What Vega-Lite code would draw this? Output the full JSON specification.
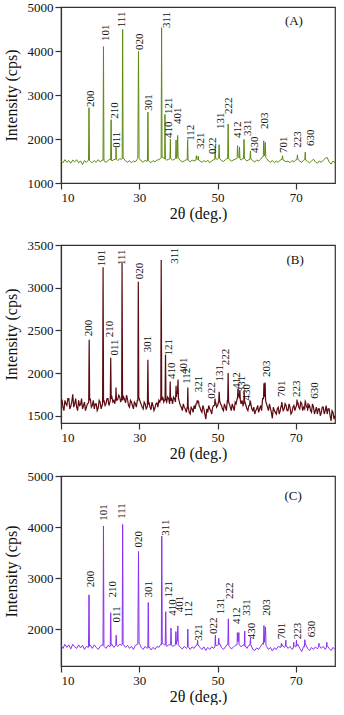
{
"$schema": "https://vega.github.io/schema/vega-lite/v6.json",
"padding": {"left": 2, "top": 0, "right": 4, "bottom": 0},
"spacing": 7,
"align": "none",
"config": {
 "font": "Liberation Serif",
 "view": {"stroke": "#333", "strokeWidth": 1.2},
 "axis": {"grid": false, "labelOverlap": false, "domainColor": "#333", "domainWidth": 1.2, "tickColor": "#333", "tickWidth": 1.2, "labelColor": "#111", "titleColor": "#111", "labelFont": "Liberation Serif", "titleFont": "Liberation Serif", "labelFontSize": 13, "titleFontSize": 16, "titleFontWeight": "normal", "labelPadding": 2},
 "axisX": {"titlePadding": 1},
 "axisY": {"titlePadding": 8},
 "text": {"font": "Liberation Serif", "color": "#111"}
},
"vconcat": [
{
 "width": 274, "height": 176,
 "layer": [
  {"data": {"values": [
{"x":10,"y":1500},{"x":10.5,"y":1460},{"x":11,"y":1530},{"x":11.5,"y":1470},{"x":12,"y":1510},{"x":12.5,"y":1450},{"x":13,"y":1520},{"x":13.5,"y":1480},{"x":14,"y":1530},{"x":14.5,"y":1460},{"x":15,"y":1500},{"x":15.5,"y":1420},{"x":16,"y":1510},{"x":16.5,"y":1470},{"x":17,"y":1520},{"x":17.5,"y":1490},{"x":18,"y":1460},{"x":18.5,"y":1510},{"x":19,"y":1470},{"x":19.5,"y":1530},{"x":20,"y":1480},{"x":20.5,"y":1520},{"x":21,"y":1500},{"x":21.5,"y":1470},{"x":22,"y":1510},{"x":22.5,"y":1540},{"x":23,"y":1500},{"x":23.5,"y":1530},{"x":24,"y":1560},{"x":24.5,"y":1510},{"x":25,"y":1550},{"x":25.5,"y":1540},{"x":26,"y":1560},{"x":26.5,"y":1500},{"x":27,"y":1470},{"x":27.5,"y":1510},{"x":28,"y":1460},{"x":28.5,"y":1500},{"x":29,"y":1480},{"x":29.5,"y":1540},{"x":30,"y":1560},{"x":30.5,"y":1500},{"x":31,"y":1470},{"x":31.5,"y":1520},{"x":32,"y":1490},{"x":32.5,"y":1500},{"x":33,"y":1460},{"x":33.5,"y":1510},{"x":34,"y":1480},{"x":34.5,"y":1520},{"x":35,"y":1530},{"x":35.5,"y":1560},{"x":36,"y":1580},{"x":36.5,"y":1550},{"x":37,"y":1520},{"x":37.5,"y":1540},{"x":38,"y":1560},{"x":38.5,"y":1520},{"x":39,"y":1540},{"x":39.5,"y":1560},{"x":40,"y":1570},{"x":40.5,"y":1510},{"x":41,"y":1480},{"x":41.5,"y":1500},{"x":42,"y":1530},{"x":42.5,"y":1520},{"x":43,"y":1480},{"x":43.5,"y":1520},{"x":44,"y":1500},{"x":44.5,"y":1560},{"x":45,"y":1550},{"x":45.5,"y":1500},{"x":46,"y":1470},{"x":46.5,"y":1510},{"x":47,"y":1480},{"x":47.5,"y":1520},{"x":48,"y":1460},{"x":48.5,"y":1500},{"x":49,"y":1530},{"x":49.5,"y":1560},{"x":50,"y":1540},{"x":50.5,"y":1570},{"x":51,"y":1510},{"x":51.5,"y":1490},{"x":52,"y":1530},{"x":52.5,"y":1560},{"x":53,"y":1540},{"x":53.5,"y":1500},{"x":54,"y":1520},{"x":54.5,"y":1540},{"x":55,"y":1580},{"x":55.5,"y":1570},{"x":56,"y":1520},{"x":56.5,"y":1560},{"x":57,"y":1540},{"x":57.5,"y":1500},{"x":58,"y":1530},{"x":58.5,"y":1560},{"x":59,"y":1510},{"x":59.5,"y":1480},{"x":60,"y":1520},{"x":60.5,"y":1500},{"x":61,"y":1540},{"x":61.5,"y":1600},{"x":62,"y":1620},{"x":62.5,"y":1560},{"x":63,"y":1500},{"x":63.5,"y":1470},{"x":64,"y":1510},{"x":64.5,"y":1460},{"x":65,"y":1500},{"x":65.5,"y":1470},{"x":66,"y":1520},{"x":66.5,"y":1560},{"x":67,"y":1510},{"x":67.5,"y":1480},{"x":68,"y":1500},{"x":68.5,"y":1460},{"x":69,"y":1510},{"x":69.5,"y":1480},{"x":70,"y":1530},{"x":70.5,"y":1560},{"x":71,"y":1500},{"x":71.5,"y":1470},{"x":72,"y":1520},{"x":72.5,"y":1550},{"x":73,"y":1490},{"x":73.5,"y":1460},{"x":74,"y":1500},{"x":74.5,"y":1540},{"x":75,"y":1480},{"x":75.5,"y":1450},{"x":76,"y":1500},{"x":76.5,"y":1470},{"x":77,"y":1520},{"x":77.5,"y":1560},{"x":78,"y":1580},{"x":78.5,"y":1480},{"x":79,"y":1430},{"x":79.5,"y":1500},{"x":80,"y":1460},
{"x":17.03,"y":1520},{"x":17.15,"y":2710},{"x":17.27,"y":1510},
{"x":20.73,"y":1520},{"x":20.85,"y":4100},{"x":20.97,"y":1510},
{"x":22.68,"y":1530},{"x":22.8,"y":2440},{"x":22.92,"y":1520},
{"x":23.93,"y":1540},{"x":24.05,"y":1800},{"x":24.17,"y":1540},
{"x":25.63,"y":1550},{"x":25.75,"y":4490},{"x":25.87,"y":1550},
{"x":29.62,"y":1560},{"x":29.8,"y":3990},{"x":29.95,"y":1580},
{"x":32.08,"y":1500},{"x":32.2,"y":2610},{"x":32.32,"y":1510},
{"x":35.58,"y":1570},{"x":35.7,"y":4530},{"x":35.82,"y":1580},
{"x":36.43,"y":1560},{"x":36.55,"y":2560},{"x":36.67,"y":1540},
{"x":37.83,"y":1550},{"x":37.95,"y":2000},{"x":38.07,"y":1550},
{"x":39.28,"y":1560},{"x":39.4,"y":1980},{"x":39.52,"y":1600},
{"x":39.68,"y":1600},{"x":39.8,"y":2080},{"x":39.92,"y":1560},
{"x":42.23,"y":1520},{"x":42.35,"y":1980},{"x":42.47,"y":1520},
{"x":44.48,"y":1520},{"x":44.6,"y":1620},{"x":44.72,"y":1540},
{"x":44.93,"y":1540},{"x":45.05,"y":1610},{"x":45.17,"y":1520},
{"x":49.28,"y":1530},{"x":49.4,"y":1810},{"x":49.52,"y":1550},
{"x":50.28,"y":1560},{"x":50.4,"y":1870},{"x":50.52,"y":1560},
{"x":52.58,"y":1550},{"x":52.7,"y":2340},{"x":52.82,"y":1550},
{"x":54.98,"y":1560},{"x":55.1,"y":1850},{"x":55.22,"y":1620},
{"x":55.48,"y":1600},{"x":55.6,"y":1820},{"x":55.72,"y":1560},
{"x":56.63,"y":1550},{"x":56.75,"y":1990},{"x":56.87,"y":1550},
{"x":58.28,"y":1540},{"x":58.4,"y":1730},{"x":58.52,"y":1550},
{"x":61.68,"y":1600},{"x":61.8,"y":1960},{"x":61.92,"y":1700},
{"x":62.08,"y":1700},{"x":62.2,"y":1920},{"x":62.32,"y":1580},
{"x":66.48,"y":1540},{"x":66.6,"y":1620},{"x":66.72,"y":1520},
{"x":70.28,"y":1530},{"x":70.4,"y":1640},{"x":70.52,"y":1540},
{"x":72.28,"y":1530},{"x":72.4,"y":1700},{"x":72.52,"y":1520}
  ]},
   "mark": {"type": "line", "color": "#5e8a12", "strokeWidth": 1, "clip": true},
   "encoding": {
    "x": {"field": "x", "type": "quantitative", "scale": {"domain": [10, 80], "nice": false, "zero": false},
     "axis": {"title": "2θ (deg.)", "labelOverlap": false, "values": [10,15,20,25,30,35,40,45,50,55,60,65,70,75,80], "labelExpr": "datum.value % 10 === 0 ? datum.label : ''", "tickSize": {"condition": {"test": "datum.value % 10 === 0", "value": 6}, "value": 3}}},
    "y": {"field": "y", "type": "quantitative", "scale": {"domain": [1000, 5000], "nice": false, "zero": false},
     "axis": {"title": "Intensity (cps)", "labelOverlap": false, "format": "d", "values": [1000,1500,2000,2500,3000,3500,4000,4500,5000], "labelExpr": "datum.value % 1000 === 0 ? datum.label : ''", "tickSize": {"condition": {"test": "datum.value % 1000 === 0", "value": 6}, "value": 3}}}
   }},
  {"data": {"values": [
{"x":17.6,"y":2730,"t":"200"},{"x":21.4,"y":4230,"t":"101"},{"x":23.7,"y":2460,"t":"210"},{"x":24.2,"y":1800,"t":"011"},{"x":25.7,"y":4540,"t":"111"},{"x":30.2,"y":4020,"t":"020"},{"x":32.6,"y":2640,"t":"301"},{"x":37.2,"y":4520,"t":"311"},{"x":37.7,"y":2570,"t":"121"},{"x":37.5,"y":2020,"t":"410"},{"x":39.9,"y":2340,"t":"401"},{"x":43.2,"y":1960,"t":"112"},{"x":45.8,"y":1770,"t":"321"},{"x":48.8,"y":1660,"t":"022"},{"x":50.9,"y":2230,"t":"131"},{"x":53.0,"y":2570,"t":"222"},{"x":55.3,"y":2020,"t":"412"},{"x":57.7,"y":2070,"t":"331"},{"x":59.6,"y":1680,"t":"430"},{"x":62.1,"y":2230,"t":"203"},{"x":67.0,"y":1680,"t":"701"},{"x":70.5,"y":1800,"t":"223"},{"x":73.9,"y":1840,"t":"630"}
  ]},
   "mark": {"type": "text", "angle": 270, "align": "left", "baseline": "middle", "fontSize": 11},
   "encoding": {
    "x": {"field": "x", "type": "quantitative", "scale": {"domain": [10, 80], "nice": false, "zero": false}},
    "y": {"field": "y", "type": "quantitative", "scale": {"domain": [1000, 5000], "nice": false, "zero": false}},
    "text": {"field": "t"}
   }},
  {"data": {"values": [{"x": 69.5, "y": 4680, "t": "(A)"}]},
   "mark": {"type": "text", "align": "center", "baseline": "middle", "fontSize": 13},
   "encoding": {
    "x": {"field": "x", "type": "quantitative", "scale": {"domain": [10, 80], "nice": false, "zero": false}},
    "y": {"field": "y", "type": "quantitative", "scale": {"domain": [1000, 5000], "nice": false, "zero": false}},
    "text": {"field": "t"}
   }}
 ]
},
{
 "width": 274, "height": 178,
 "title": {"text": " ", "fontSize": 9, "offset": 0},
 "layer": [
  {"data": {"values": [
{"x":10,"y":1650},{"x":10.5,"y":1600},{"x":11,"y":1680},{"x":11.5,"y":1620},{"x":12,"y":1700},{"x":12.5,"y":1610},{"x":13,"y":1750},{"x":13.5,"y":1640},{"x":14,"y":1600},{"x":14.5,"y":1680},{"x":15,"y":1630},{"x":15.5,"y":1580},{"x":16,"y":1660},{"x":16.5,"y":1600},{"x":17,"y":1650},{"x":17.5,"y":1700},{"x":18,"y":1620},{"x":18.5,"y":1580},{"x":19,"y":1640},{"x":19.5,"y":1590},{"x":20,"y":1660},{"x":20.5,"y":1620},{"x":21,"y":1680},{"x":21.5,"y":1640},{"x":22,"y":1700},{"x":22.5,"y":1660},{"x":23,"y":1720},{"x":23.5,"y":1680},{"x":24,"y":1730},{"x":24.5,"y":1690},{"x":25,"y":1720},{"x":25.5,"y":1700},{"x":26,"y":1720},{"x":26.5,"y":1650},{"x":27,"y":1690},{"x":27.5,"y":1600},{"x":28,"y":1660},{"x":28.5,"y":1580},{"x":29,"y":1640},{"x":29.5,"y":1680},{"x":30,"y":1700},{"x":30.5,"y":1630},{"x":31,"y":1580},{"x":31.5,"y":1640},{"x":32,"y":1600},{"x":32.5,"y":1650},{"x":33,"y":1570},{"x":33.5,"y":1620},{"x":34,"y":1590},{"x":34.5,"y":1650},{"x":35,"y":1680},{"x":35.5,"y":1700},{"x":36,"y":1720},{"x":36.5,"y":1690},{"x":37,"y":1660},{"x":37.5,"y":1700},{"x":38,"y":1680},{"x":38.5,"y":1640},{"x":39,"y":1700},{"x":39.5,"y":1720},{"x":40,"y":1700},{"x":40.5,"y":1620},{"x":41,"y":1560},{"x":41.5,"y":1600},{"x":42,"y":1540},{"x":42.5,"y":1600},{"x":43,"y":1520},{"x":43.5,"y":1580},{"x":44,"y":1620},{"x":44.5,"y":1640},{"x":45,"y":1680},{"x":45.5,"y":1600},{"x":46,"y":1540},{"x":46.5,"y":1580},{"x":47,"y":1460},{"x":47.5,"y":1540},{"x":48,"y":1580},{"x":48.5,"y":1520},{"x":49,"y":1620},{"x":49.5,"y":1660},{"x":50,"y":1620},{"x":50.5,"y":1700},{"x":51,"y":1620},{"x":51.5,"y":1560},{"x":52,"y":1600},{"x":52.5,"y":1680},{"x":53,"y":1640},{"x":53.5,"y":1560},{"x":54,"y":1600},{"x":54.5,"y":1660},{"x":55,"y":1700},{"x":55.5,"y":1720},{"x":56,"y":1640},{"x":56.5,"y":1620},{"x":57,"y":1660},{"x":57.5,"y":1580},{"x":58,"y":1620},{"x":58.5,"y":1640},{"x":59,"y":1560},{"x":59.5,"y":1520},{"x":60,"y":1580},{"x":60.5,"y":1540},{"x":61,"y":1620},{"x":61.5,"y":1700},{"x":62,"y":1720},{"x":62.5,"y":1640},{"x":63,"y":1560},{"x":63.5,"y":1590},{"x":64,"y":1470},{"x":64.5,"y":1560},{"x":65,"y":1520},{"x":65.5,"y":1600},{"x":66,"y":1560},{"x":66.5,"y":1640},{"x":67,"y":1580},{"x":67.5,"y":1620},{"x":68,"y":1560},{"x":68.5,"y":1600},{"x":69,"y":1540},{"x":69.5,"y":1620},{"x":70,"y":1600},{"x":70.5,"y":1660},{"x":71,"y":1580},{"x":71.5,"y":1640},{"x":72,"y":1600},{"x":72.5,"y":1660},{"x":73,"y":1560},{"x":73.5,"y":1620},{"x":74,"y":1540},{"x":74.5,"y":1600},{"x":75,"y":1560},{"x":75.5,"y":1520},{"x":76,"y":1580},{"x":76.5,"y":1540},{"x":77,"y":1600},{"x":77.5,"y":1560},{"x":78,"y":1520},{"x":78.5,"y":1580},{"x":79,"y":1440},{"x":79.5,"y":1540},{"x":80,"y":1500},
{"x":10.25,"y":1690},{"x":10.75,"y":1560},{"x":11.25,"y":1640},{"x":11.75,"y":1700},{"x":12.25,"y":1580},{"x":12.75,"y":1660},{"x":13.25,"y":1600},{"x":13.75,"y":1700},{"x":14.25,"y":1560},{"x":14.75,"y":1620},{"x":15.25,"y":1700},{"x":15.75,"y":1620},{"x":16.25,"y":1560},{"x":16.75,"y":1640},{"x":17.75,"y":1600},{"x":18.25,"y":1680},{"x":18.75,"y":1640},{"x":19.25,"y":1560},{"x":19.75,"y":1680},{"x":20.25,"y":1580},{"x":21.25,"y":1620},{"x":21.75,"y":1700},{"x":22.25,"y":1620},{"x":23.25,"y":1660},{"x":23.75,"y":1640},{"x":24.25,"y":1680},{"x":24.75,"y":1740},{"x":25.25,"y":1660},{"x":25.75,"y":1680},{"x":26.25,"y":1690},{"x":26.75,"y":1740},{"x":27.25,"y":1620},{"x":27.75,"y":1680},{"x":28.25,"y":1620},{"x":28.75,"y":1660},{"x":29.25,"y":1600},{"x":30.25,"y":1660},{"x":30.75,"y":1600},{"x":31.25,"y":1660},{"x":31.75,"y":1580},{"x":32.75,"y":1600},{"x":33.25,"y":1660},{"x":33.75,"y":1560},{"x":34.25,"y":1640},{"x":34.75,"y":1600},{"x":35.25,"y":1660},{"x":35.75,"y":1680},{"x":36.25,"y":1660},{"x":37.25,"y":1720},{"x":37.75,"y":1640},{"x":38.25,"y":1700},{"x":38.75,"y":1720},{"x":39.25,"y":1660},{"x":40.25,"y":1660},{"x":40.75,"y":1600},{"x":41.25,"y":1640},{"x":41.75,"y":1580},{"x":42.25,"y":1600},{"x":42.75,"y":1540},{"x":43.25,"y":1600},{"x":43.75,"y":1540},{"x":44.25,"y":1580},{"x":45.75,"y":1560},{"x":46.25,"y":1620},{"x":46.75,"y":1520},{"x":47.25,"y":1580},{"x":47.75,"y":1620},{"x":48.25,"y":1560},{"x":48.75,"y":1600},{"x":49.75,"y":1600},{"x":50.25,"y":1660},{"x":50.75,"y":1640},{"x":51.25,"y":1580},{"x":51.75,"y":1640},{"x":52.25,"y":1560},{"x":53.25,"y":1600},{"x":53.75,"y":1640},{"x":54.25,"y":1560},{"x":54.75,"y":1640},{"x":56.25,"y":1680},{"x":57.25,"y":1620},{"x":57.75,"y":1560},{"x":58.75,"y":1580},{"x":59.25,"y":1600},{"x":59.75,"y":1560},{"x":60.25,"y":1620},{"x":60.75,"y":1580},{"x":61.25,"y":1560},{"x":62.75,"y":1600},{"x":63.25,"y":1640},{"x":63.75,"y":1540},{"x":64.25,"y":1600},{"x":64.75,"y":1540},{"x":65.25,"y":1580},{"x":65.75,"y":1520},{"x":66.25,"y":1620},{"x":66.75,"y":1560},{"x":67.25,"y":1640},{"x":67.75,"y":1560},{"x":68.25,"y":1640},{"x":68.75,"y":1520},{"x":69.25,"y":1600},{"x":69.75,"y":1560},{"x":70.75,"y":1600},{"x":71.25,"y":1660},{"x":71.75,"y":1560},{"x":72.25,"y":1580},{"x":72.75,"y":1600},{"x":73.75,"y":1560},{"x":74.25,"y":1640},{"x":74.75,"y":1520},{"x":75.25,"y":1600},{"x":75.75,"y":1580},{"x":76.25,"y":1500},{"x":76.75,"y":1600},{"x":77.25,"y":1520},{"x":77.75,"y":1620},{"x":78.25,"y":1580},{"x":78.75,"y":1500},{"x":79.25,"y":1560},{"x":79.75,"y":1460},
{"x":17.08,"y":1660},{"x":17.2,"y":2390},{"x":17.32,"y":1680},
{"x":20.63,"y":1640},{"x":20.75,"y":3240},{"x":20.87,"y":1660},
{"x":22.58,"y":1680},{"x":22.7,"y":2180},{"x":22.82,"y":1700},
{"x":23.93,"y":1700},{"x":24.05,"y":1830},{"x":24.17,"y":1700},
{"x":25.48,"y":1700},{"x":25.6,"y":3290},{"x":25.72,"y":1720},
{"x":29.63,"y":1680},{"x":29.75,"y":3070},{"x":29.87,"y":1700},
{"x":32.08,"y":1620},{"x":32.2,"y":2155},{"x":32.32,"y":1640},
{"x":35.48,"y":1700},{"x":35.6,"y":3325},{"x":35.72,"y":1720},
{"x":36.58,"y":1690},{"x":36.7,"y":2215},{"x":36.82,"y":1680},
{"x":37.78,"y":1680},{"x":37.9,"y":1900},{"x":38.02,"y":1680},
{"x":39.28,"y":1700},{"x":39.4,"y":1850},{"x":39.55,"y":1760},
{"x":39.75,"y":1760},{"x":39.9,"y":1925},{"x":40.05,"y":1700},
{"x":42.28,"y":1580},{"x":42.4,"y":1830},{"x":42.52,"y":1600},
{"x":44.68,"y":1640},{"x":44.8,"y":1680},{"x":44.92,"y":1650},
{"x":45.03,"y":1650},{"x":45.15,"y":1670},{"x":45.27,"y":1620},
{"x":49.23,"y":1620},{"x":49.35,"y":1700},{"x":49.47,"y":1640},
{"x":50.28,"y":1660},{"x":50.4,"y":1780},{"x":50.52,"y":1680},
{"x":52.58,"y":1660},{"x":52.7,"y":2000},{"x":52.82,"y":1660},
{"x":55.08,"y":1700},{"x":55.2,"y":1815},{"x":55.32,"y":1740},
{"x":55.58,"y":1740},{"x":55.7,"y":1800},{"x":55.82,"y":1680},
{"x":56.68,"y":1640},{"x":56.8,"y":1780},{"x":56.92,"y":1650},
{"x":58.18,"y":1620},{"x":58.3,"y":1680},{"x":58.42,"y":1630},
{"x":61.73,"y":1700},{"x":61.85,"y":1880},{"x":61.97,"y":1800},
{"x":62.03,"y":1800},{"x":62.15,"y":1890},{"x":62.27,"y":1680},
{"x":66.28,"y":1600},{"x":66.4,"y":1660},{"x":66.52,"y":1620},
{"x":70.18,"y":1620},{"x":70.3,"y":1690},{"x":70.42,"y":1630},
{"x":72.28,"y":1620},{"x":72.4,"y":1670},{"x":72.52,"y":1640},
{"x":72.98,"y":1600},{"x":73.1,"y":1650},{"x":73.22,"y":1590}
  ]},
   "mark": {"type": "line", "color": "#5a0a10", "strokeWidth": 1.2, "clip": true},
   "encoding": {
    "x": {"field": "x", "type": "quantitative", "scale": {"domain": [10, 80], "nice": false, "zero": false},
     "axis": {"title": "2θ (deg.)", "labelOverlap": false, "values": [10,15,20,25,30,35,40,45,50,55,60,65,70,75,80], "labelExpr": "datum.value % 10 === 0 ? datum.label : ''", "tickSize": {"condition": {"test": "datum.value % 10 === 0", "value": 6}, "value": 3}}},
    "y": {"field": "y", "type": "quantitative", "scale": {"domain": [1415, 3500], "nice": false, "zero": false},
     "axis": {"title": "Intensity (cps)", "labelOverlap": false, "format": "d", "values": [1500,1750,2000,2250,2500,2750,3000,3250,3500], "labelExpr": "datum.value % 500 === 0 ? datum.label : ''", "tickSize": {"condition": {"test": "datum.value % 500 === 0", "value": 6}, "value": 3}}}
   }},
  {"data": {"values": [
{"x":17.1,"y":2430,"t":"200"},{"x":20.5,"y":3250,"t":"101"},{"x":22.6,"y":2420,"t":"210"},{"x":23.9,"y":2205,"t":"011"},{"x":25.6,"y":3265,"t":"111"},{"x":30.3,"y":3100,"t":"020"},{"x":32.2,"y":2245,"t":"301"},{"x":39.0,"y":3280,"t":"311"},{"x":37.5,"y":2205,"t":"121"},{"x":38.4,"y":1930,"t":"410"},{"x":41.3,"y":1990,"t":"401"},{"x":42.2,"y":1875,"t":"112"},{"x":45.2,"y":1775,"t":"321"},{"x":48.6,"y":1700,"t":"022"},{"x":50.7,"y":1900,"t":"131"},{"x":52.2,"y":2090,"t":"222"},{"x":55.0,"y":1815,"t":"412"},{"x":56.2,"y":1775,"t":"331"},{"x":57.5,"y":1680,"t":"430"},{"x":62.6,"y":1955,"t":"203"},{"x":66.5,"y":1720,"t":"701"},{"x":70.3,"y":1720,"t":"223"},{"x":74.8,"y":1700,"t":"630"}
  ]},
   "mark": {"type": "text", "angle": 270, "align": "left", "baseline": "middle", "fontSize": 11},
   "encoding": {
    "x": {"field": "x", "type": "quantitative", "scale": {"domain": [10, 80], "nice": false, "zero": false}},
    "y": {"field": "y", "type": "quantitative", "scale": {"domain": [1415, 3500], "nice": false, "zero": false}},
    "text": {"field": "t"}
   }},
  {"data": {"values": [{"x": 69.8, "y": 3325, "t": "(B)"}]},
   "mark": {"type": "text", "align": "center", "baseline": "middle", "fontSize": 13},
   "encoding": {
    "x": {"field": "x", "type": "quantitative", "scale": {"domain": [10, 80], "nice": false, "zero": false}},
    "y": {"field": "y", "type": "quantitative", "scale": {"domain": [1415, 3500], "nice": false, "zero": false}},
    "text": {"field": "t"}
   }}
 ]
},
{
 "width": 274, "height": 190,
 "layer": [
  {"data": {"values": [
{"x":10,"y":1680},{"x":10.5,"y":1620},{"x":11,"y":1700},{"x":11.5,"y":1640},{"x":12,"y":1690},{"x":12.5,"y":1610},{"x":13,"y":1700},{"x":13.5,"y":1650},{"x":14,"y":1620},{"x":14.5,"y":1690},{"x":15,"y":1630},{"x":15.5,"y":1680},{"x":16,"y":1600},{"x":16.5,"y":1660},{"x":17,"y":1640},{"x":17.5,"y":1680},{"x":18,"y":1620},{"x":18.5,"y":1690},{"x":19,"y":1640},{"x":19.5,"y":1600},{"x":20,"y":1660},{"x":20.5,"y":1690},{"x":21,"y":1660},{"x":21.5,"y":1620},{"x":22,"y":1680},{"x":22.5,"y":1650},{"x":23,"y":1700},{"x":23.5,"y":1640},{"x":24,"y":1690},{"x":24.5,"y":1660},{"x":25,"y":1700},{"x":25.5,"y":1680},{"x":26,"y":1690},{"x":26.5,"y":1640},{"x":27,"y":1680},{"x":27.5,"y":1620},{"x":28,"y":1660},{"x":28.5,"y":1600},{"x":29,"y":1680},{"x":29.5,"y":1700},{"x":30,"y":1720},{"x":30.5,"y":1640},{"x":31,"y":1600},{"x":31.5,"y":1660},{"x":32,"y":1620},{"x":32.5,"y":1650},{"x":33,"y":1590},{"x":33.5,"y":1640},{"x":34,"y":1600},{"x":34.5,"y":1660},{"x":35,"y":1640},{"x":35.5,"y":1700},{"x":36,"y":1720},{"x":36.5,"y":1680},{"x":37,"y":1660},{"x":37.5,"y":1690},{"x":38,"y":1700},{"x":38.5,"y":1660},{"x":39,"y":1680},{"x":39.5,"y":1700},{"x":40,"y":1690},{"x":40.5,"y":1640},{"x":41,"y":1610},{"x":41.5,"y":1660},{"x":42,"y":1620},{"x":42.5,"y":1660},{"x":43,"y":1600},{"x":43.5,"y":1650},{"x":44,"y":1620},{"x":44.5,"y":1680},{"x":45,"y":1700},{"x":45.5,"y":1640},{"x":46,"y":1600},{"x":46.5,"y":1650},{"x":47,"y":1580},{"x":47.5,"y":1640},{"x":48,"y":1600},{"x":48.5,"y":1650},{"x":49,"y":1620},{"x":49.5,"y":1690},{"x":50,"y":1680},{"x":50.5,"y":1720},{"x":51,"y":1640},{"x":51.5,"y":1600},{"x":52,"y":1650},{"x":52.5,"y":1700},{"x":53,"y":1660},{"x":53.5,"y":1610},{"x":54,"y":1640},{"x":54.5,"y":1680},{"x":55,"y":1720},{"x":55.5,"y":1700},{"x":56,"y":1650},{"x":56.5,"y":1690},{"x":57,"y":1660},{"x":57.5,"y":1620},{"x":58,"y":1680},{"x":58.5,"y":1700},{"x":59,"y":1600},{"x":59.5,"y":1580},{"x":60,"y":1630},{"x":60.5,"y":1600},{"x":61,"y":1660},{"x":61.5,"y":1720},{"x":62,"y":1740},{"x":62.5,"y":1660},{"x":63,"y":1600},{"x":63.5,"y":1640},{"x":64,"y":1570},{"x":64.5,"y":1630},{"x":65,"y":1600},{"x":65.5,"y":1660},{"x":66,"y":1640},{"x":66.5,"y":1690},{"x":67,"y":1640},{"x":67.5,"y":1700},{"x":68,"y":1620},{"x":68.5,"y":1660},{"x":69,"y":1600},{"x":69.5,"y":1680},{"x":70,"y":1650},{"x":70.5,"y":1700},{"x":71,"y":1620},{"x":71.5,"y":1560},{"x":72,"y":1660},{"x":72.5,"y":1700},{"x":73,"y":1620},{"x":73.5,"y":1580},{"x":74,"y":1640},{"x":74.5,"y":1600},{"x":75,"y":1650},{"x":75.5,"y":1610},{"x":76,"y":1680},{"x":76.5,"y":1620},{"x":77,"y":1660},{"x":77.5,"y":1600},{"x":78,"y":1680},{"x":78.5,"y":1620},{"x":79,"y":1580},{"x":79.5,"y":1640},{"x":80,"y":1600},
{"x":17.03,"y":1660},{"x":17.15,"y":2670},{"x":17.27,"y":1660},
{"x":20.73,"y":1680},{"x":20.85,"y":4020},{"x":20.97,"y":1680},
{"x":22.58,"y":1670},{"x":22.7,"y":2320},{"x":22.82,"y":1680},
{"x":23.98,"y":1690},{"x":24.1,"y":1880},{"x":24.22,"y":1680},
{"x":25.63,"y":1690},{"x":25.75,"y":4050},{"x":25.87,"y":1700},
{"x":29.62,"y":1700},{"x":29.8,"y":3520},{"x":29.95,"y":1720},
{"x":32.18,"y":1630},{"x":32.3,"y":2520},{"x":32.42,"y":1640},
{"x":35.63,"y":1690},{"x":35.75,"y":3820},{"x":35.87,"y":1710},
{"x":36.63,"y":1690},{"x":36.75,"y":2340},{"x":36.87,"y":1680},
{"x":37.98,"y":1690},{"x":38.1,"y":2020},{"x":38.22,"y":1690},
{"x":39.23,"y":1690},{"x":39.35,"y":1950},{"x":39.5,"y":1760},
{"x":39.72,"y":1760},{"x":39.85,"y":2060},{"x":39.97,"y":1690},
{"x":42.28,"y":1640},{"x":42.4,"y":2000},{"x":42.52,"y":1650},
{"x":44.78,"y":1690},{"x":44.9,"y":1780},{"x":45.02,"y":1690},
{"x":49.33,"y":1650},{"x":49.45,"y":1880},{"x":49.57,"y":1680},
{"x":50.18,"y":1690},{"x":50.3,"y":1820},{"x":50.42,"y":1700},
{"x":52.63,"y":1690},{"x":52.75,"y":2200},{"x":52.87,"y":1680},
{"x":54.93,"y":1690},{"x":55.05,"y":1930},{"x":55.2,"y":1760},
{"x":55.33,"y":1760},{"x":55.45,"y":1930},{"x":55.57,"y":1690},
{"x":56.83,"y":1680},{"x":56.95,"y":1960},{"x":57.07,"y":1670},
{"x":58.28,"y":1680},{"x":58.4,"y":1830},{"x":58.52,"y":1690},
{"x":61.73,"y":1700},{"x":61.85,"y":2070},{"x":62.05,"y":1860},
{"x":62.13,"y":1860},{"x":62.25,"y":2040},{"x":62.37,"y":1680},
{"x":66.18,"y":1640},{"x":66.3,"y":1720},{"x":66.42,"y":1660},
{"x":67.33,"y":1660},{"x":67.45,"y":1780},{"x":67.57,"y":1670},
{"x":69.33,"y":1620},{"x":69.45,"y":1740},{"x":69.57,"y":1670},
{"x":70.03,"y":1650},{"x":70.15,"y":1780},{"x":70.27,"y":1670},
{"x":72.18,"y":1650},{"x":72.3,"y":1790},{"x":72.42,"y":1690},
{"x":75.78,"y":1640},{"x":75.9,"y":1720},{"x":76.02,"y":1670},
{"x":77.78,"y":1630},{"x":77.9,"y":1740},{"x":78.02,"y":1670}
  ]},
   "mark": {"type": "line", "color": "#8a2ff0", "strokeWidth": 1, "clip": true},
   "encoding": {
    "x": {"field": "x", "type": "quantitative", "scale": {"domain": [10, 80], "nice": false, "zero": false},
     "axis": {"title": "2θ (deg.)", "labelOverlap": false, "values": [10,15,20,25,30,35,40,45,50,55,60,65,70,75,80], "labelExpr": "datum.value % 10 === 0 ? datum.label : ''", "tickSize": {"condition": {"test": "datum.value % 10 === 0", "value": 6}, "value": 3}}},
    "y": {"field": "y", "type": "quantitative", "scale": {"domain": [1275, 5000], "nice": false, "zero": false},
     "axis": {"title": "Intensity (cps)", "labelOverlap": false, "format": "d", "values": [2000,3000,4000,5000], "tickSize": 6}}
   }},
  {"data": {"values": [
{"x":17.7,"y":2820,"t":"200"},{"x":21.1,"y":4125,"t":"101"},{"x":23.2,"y":2620,"t":"210"},{"x":24.3,"y":2130,"t":"011"},{"x":25.6,"y":4160,"t":"111"},{"x":29.9,"y":3600,"t":"020"},{"x":32.6,"y":2620,"t":"301"},{"x":36.8,"y":3830,"t":"311"},{"x":37.6,"y":2620,"t":"121"},{"x":38.5,"y":2260,"t":"410"},{"x":40.5,"y":2330,"t":"401"},{"x":42.6,"y":2230,"t":"112"},{"x":45.2,"y":1770,"t":"321"},{"x":49.0,"y":1900,"t":"022"},{"x":51.0,"y":2290,"t":"131"},{"x":53.1,"y":2590,"t":"222"},{"x":54.9,"y":2100,"t":"412"},{"x":57.5,"y":2260,"t":"331"},{"x":58.9,"y":1800,"t":"430"},{"x":62.6,"y":2260,"t":"203"},{"x":66.5,"y":1800,"t":"701"},{"x":70.5,"y":1800,"t":"223"},{"x":74.1,"y":1840,"t":"630"}
  ]},
   "mark": {"type": "text", "angle": 270, "align": "left", "baseline": "middle", "fontSize": 11},
   "encoding": {
    "x": {"field": "x", "type": "quantitative", "scale": {"domain": [10, 80], "nice": false, "zero": false}},
    "y": {"field": "y", "type": "quantitative", "scale": {"domain": [1275, 5000], "nice": false, "zero": false}},
    "text": {"field": "t"}
   }},
  {"data": {"values": [{"x": 69.3, "y": 4614, "t": "(C)"}]},
   "mark": {"type": "text", "align": "center", "baseline": "middle", "fontSize": 13},
   "encoding": {
    "x": {"field": "x", "type": "quantitative", "scale": {"domain": [10, 80], "nice": false, "zero": false}},
    "y": {"field": "y", "type": "quantitative", "scale": {"domain": [1275, 5000], "nice": false, "zero": false}},
    "text": {"field": "t"}
   }}
 ]
}
]
}
